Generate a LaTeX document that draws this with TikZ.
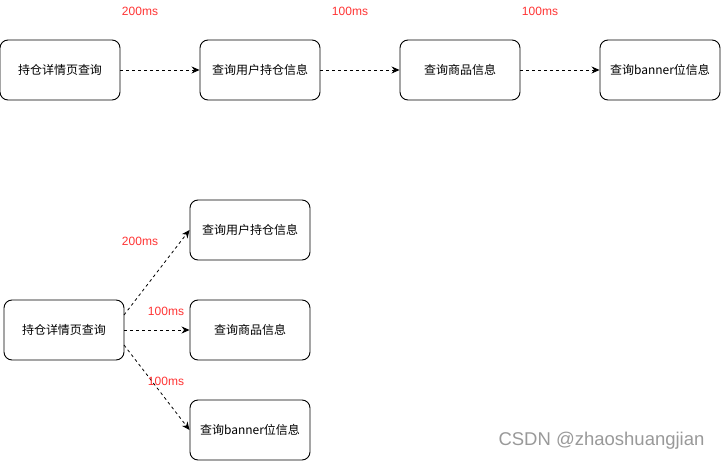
\documentclass[tikz,border=0pt]{standalone}
\usepackage{fontspec}
\setmainfont{Liberation Sans}
\newfontfamily\cjk{Noto Sans CJK SC}
\usetikzlibrary{arrows.meta}
\definecolor{lblred}{HTML}{FF3333}
\begin{document}
\begin{tikzpicture}[x=1pt,y=-1pt,
  box/.style={draw=black, line width=0.9pt, rounded corners=8pt, minimum width=120pt, minimum height=60pt, inner sep=0pt, font=\fontsize{12pt}{14pt}\selectfont\cjk},
  conn/.style={dashed, dash pattern=on 3pt off 3pt, line width=0.8pt, -{Stealth[length=8pt,width=7pt]}},
  lbl/.style={text=lblred, font=\fontsize{12pt}{14pt}\selectfont}]
\useasboundingbox (0,0) rectangle (721,461);
% top row
\node[box] (a1) at (60,70) {持仓详情页查询};
\node[box] (a2) at (260,70) {查询用户持仓信息};
\node[box] (a3) at (460,70) {查询商品信息};
\node[box] (a4) at (660,70) {查询banner位信息};
\draw[conn] (a1) -- (a2);
\draw[conn] (a2) -- (a3);
\draw[conn] (a3) -- (a4);
\node[lbl] (t1) at (140,11) {200ms};
\node[lbl] (t2) at (350,11) {100ms};
\node[lbl] (t3) at (540,11) {100ms};
% bottom
\node[box] (b0) at (64,330) {持仓详情页查询};
\node[box] (b1) at (250,230) {查询用户持仓信息};
\node[box] (b2) at (250,330) {查询商品信息};
\node[box] (b3) at (250,430) {查询banner位信息};
\coordinate (s1) at (124,315);
\coordinate (s3) at (124,345);
\draw[conn] (s1) -- (b1.west);
\draw[conn] (b0) -- (b2);
\draw[conn] (s3) -- (b3.west);
\node[lbl] (u1) at (140,241) {200ms};
\node[lbl] (u2) at (166,311) {100ms};
\node[lbl] (u3) at (166,381) {100ms};
\node[text=gray!80, font=\fontsize{18.5pt}{20pt}\selectfont, anchor=east] (wm) at (708,441) {CSDN @zhaoshuangjian};
\end{tikzpicture}
\end{document}
